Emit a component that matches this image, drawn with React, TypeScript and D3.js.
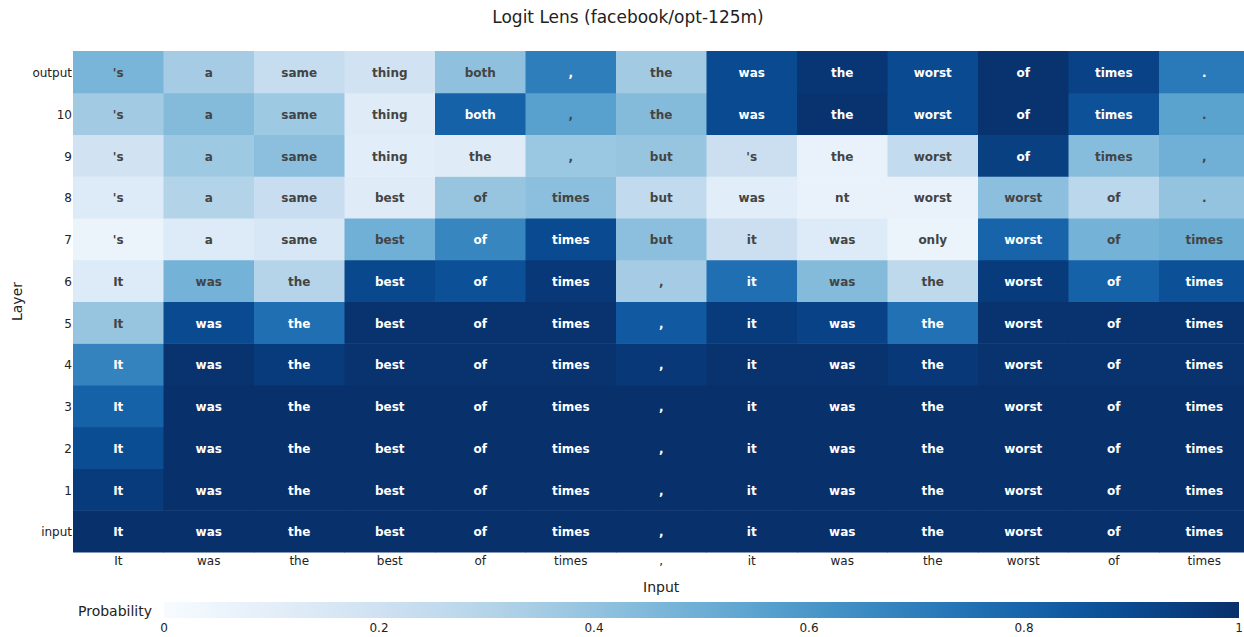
import React from "react";
import * as d3 from "d3";

const inputTokens = ["It", "was", "the", "best", "of", "times", ",", "it", "was", "the", "worst", "of", "times"];
const layerLabels = ["input", "1", "2", "3", "4", "5", "6", "7", "8", "9", "10", "output"];

const tokInput = ["It", "was", "the", "best", "of", "times", ",", "it", "was", "the", "worst", "of", "times"];
const tok1 = tokInput;
const tok2 = tokInput;
const tok3 = tokInput;
const tok4 = tokInput;
const tok5 = tokInput;
const tok6 = tokInput;
const tok7 = ["'s", "a", "same", "best", "of", "times", "but", "it", "was", "only", "worst", "of", "times"];
const tok8 = ["'s", "a", "same", "best", "of", "times", "but", "was", "nt", "worst", "worst", "of", "."];
const tok9 = ["'s", "a", "same", "thing", "the", ",", "but", "'s", "the", "worst", "of", "times", ","];
const tok10 = ["'s", "a", "same", "thing", "both", ",", "the", "was", "the", "worst", "of", "times", "."];
const tokOutput = ["'s", "a", "same", "thing", "both", ",", "the", "was", "the", "worst", "of", "times", "."];

const probInput = [1, 1, 1, 1, 1, 1, 1, 1, 1, 1, 1, 1, 1];
const prob1 = [0.96, 1, 1, 1, 1, 1, 1, 1, 1, 1, 1, 1, 1];
const prob2 = [0.89, 1, 1, 1, 1, 1, 1, 1, 1, 1, 1, 1, 1];
const prob3 = [0.81, 1, 1, 1, 1, 1, 1, 1, 1, 1, 1, 1, 1];
const prob4 = [0.68, 0.99, 0.96, 0.99, 0.99, 0.99, 0.97, 0.99, 0.99, 0.97, 0.99, 0.99, 0.99];
const prob5 = [0.39, 0.9, 0.76, 0.99, 0.99, 0.99, 0.84, 0.96, 0.93, 0.75, 0.99, 0.99, 0.99];
const prob6 = [0.13, 0.48, 0.3, 0.91, 0.88, 0.97, 0.35, 0.76, 0.44, 0.27, 0.96, 0.81, 0.88];
const prob7 = [0.06, 0.13, 0.16, 0.49, 0.67, 0.9, 0.42, 0.22, 0.13, 0.06, 0.8, 0.48, 0.5];
const prob8 = [0.13, 0.31, 0.23, 0.12, 0.39, 0.42, 0.26, 0.11, 0.07, 0.07, 0.42, 0.28, 0.4];
const prob9 = [0.19, 0.37, 0.42, 0.11, 0.12, 0.38, 0.39, 0.22, 0.07, 0.25, 0.94, 0.43, 0.49];
const prob10 = [0.36, 0.44, 0.37, 0.12, 0.81, 0.56, 0.44, 0.9, 0.99, 0.9, 0.99, 0.87, 0.55];
const probOutput = [0.47, 0.35, 0.24, 0.19, 0.41, 0.7, 0.36, 0.9, 0.98, 0.9, 0.99, 0.93, 0.72];

const colorTicks = [0, 0.2, 0.4, 0.6, 0.8, 1];

const tokenRows = [tokInput, tok1, tok2, tok3, tok4, tok5, tok6, tok7, tok8, tok9, tok10, tokOutput];
const probRows = [probInput, prob1, prob2, prob3, prob4, prob5, prob6, prob7, prob8, prob9, prob10, probOutput];

const W = 1244;
const H = 637;
const FONT = "'DejaVu Sans', sans-serif";

export default function App() {
  const plotLeft = 73;
  const plotRight = 1249.5;
  const plotTop = 51;
  const plotBottom = 552;

  const x = d3.scaleBand<number>().domain(d3.range(inputTokens.length)).range([plotLeft, plotRight]).padding(0);
  const y = d3.scaleBand<string>().domain([...layerLabels].reverse()).range([plotTop, plotBottom]).padding(0);
  const color = d3.scaleSequential(d3.interpolateBlues).domain([0, 1]);

  const cbLeft = 164;
  const cbRight = 1239;
  const cbTop = 602;
  const cbBottom = 618;
  const cbScale = d3.scaleLinear().domain([0, 1]).range([cbLeft, cbRight]);
  const gradStops = d3.range(0, 1.0001, 0.05);

  const cells: React.ReactNode[] = [];
  const labels: React.ReactNode[] = [];
  layerLabels.forEach((layer, li) => {
    const row = probRows[li];
    const toks = tokenRows[li];
    row.forEach((p, ci) => {
      const x0 = x(ci)!;
      const y0 = y(layer)!;
      cells.push(
        <rect key={`c-${li}-${ci}`} x={x0} y={y0} width={x.bandwidth() + 0.5} height={y.bandwidth() + 0.5} fill={color(p)} />
      );
      labels.push(
        <text
          key={`t-${li}-${ci}`}
          x={x0 + x.bandwidth() / 2}
          y={y0 + y.bandwidth() / 2 + 1}
          dy="0.35em"
          textAnchor="middle"
          fontWeight="bold"
          fontSize={12}
          fill={p > 0.6 ? "#ffffff" : "#444444"}
        >
          {toks[ci]}
        </text>
      );
    });
  });

  return (
    <svg
      width={W}
      height={H}
      style={{ position: "absolute", left: 0, top: 0, overflow: "hidden", background: "#fff" }}
      fontFamily={FONT}
    >
      <defs>
        <linearGradient id="cbgrad" x1="0" x2="1" y1="0" y2="0">
          {gradStops.map((s) => (
            <stop key={s} offset={`${s * 100}%`} stopColor={color(s)} />
          ))}
        </linearGradient>
      </defs>
      <text x={628} y={22.5} textAnchor="middle" fontSize={17} fill="#222">
        Logit Lens (facebook/opt-125m)
      </text>
      <g>{cells}</g>
      <g>{labels}</g>
      {layerLabels.map((l) => (
        <text key={`y-${l}`} x={72} y={y(l)! + y.bandwidth() / 2 + 1} dy="0.35em" textAnchor="end" fontSize={12} fill="#222">
          {l}
        </text>
      ))}
      {inputTokens.map((t, i) => (
        <text key={`x-${i}`} x={x(i)! + x.bandwidth() / 2} y={565} textAnchor="middle" fontSize={12} fill="#222">
          {t}
        </text>
      ))}
      <text x={(plotLeft + plotRight) / 2} y={592} textAnchor="middle" fontSize={14} fill="#222">
        Input
      </text>
      <text
        transform={`translate(22, ${(plotTop + plotBottom) / 2}) rotate(-90)`}
        textAnchor="middle"
        fontSize={14}
        fill="#222"
      >
        Layer
      </text>
      <text x={78} y={616} fontSize={14} fill="#222">
        Probability
      </text>
      <rect x={cbLeft} y={cbTop} width={cbRight - cbLeft} height={cbBottom - cbTop} fill="url(#cbgrad)" />
      {colorTicks.map((t) => (
        <text key={`cb-${t}`} x={cbScale(t)} y={632} textAnchor="middle" fontSize={12} fill="#222">
          {String(t)}
        </text>
      ))}
    </svg>
  );
}
